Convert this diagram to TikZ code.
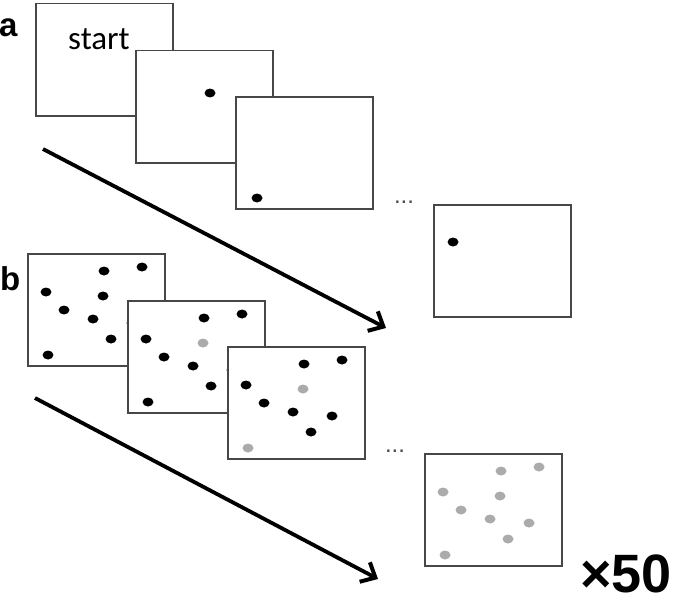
\documentclass[tikz,border=0pt]{standalone}
\usepackage{fontspec}
\setmainfont{Liberation Sans}
\newfontfamily\carl{Carlito}
\usetikzlibrary{arrows.meta}
\begin{document}
\begin{tikzpicture}[x=1pt,y=-1pt,
  frame/.style={draw=black!72, line width=1.5pt, fill=white, minimum width=137pt, minimum height=112pt, anchor=north west, inner sep=0pt},
  timearrow/.style={line width=3.8pt, -{Straight Barb[length=12pt,width=22pt,line width=4pt]}},
  panel/.style={font=\bfseries\fontsize{33}{33}\selectfont, anchor=base west, inner sep=0pt},
  ell/.style={font=\fontsize{24}{24}\selectfont, text=black!70, inner sep=0pt}]
\useasboundingbox (0,0) rectangle (685,602);
% panel a
\node[panel] (la) at (-1,37) {a};
\node[frame] (a1) at (35,3) {};
\node[font=\carl\fontsize{33}{33}\selectfont, anchor=base, inner sep=0pt] (start) at (99,50) {start};
\node[frame] (a2) at (135,50) {};
\fill (210,93) ellipse [x radius=5.5pt, y radius=4.5pt];
\node[frame] (a3) at (235,96) {};
\fill (257,198) ellipse [x radius=5.5pt, y radius=4.5pt];
\node[ell] (ea) at (404,202) {...};
\node[frame] (a4) at (433,204) {};
\fill (453,242) ellipse [x radius=5.5pt, y radius=4.5pt];
\coordinate (sa) at (43,149);
\coordinate (ta) at (386,328);
\draw[timearrow] (sa) -- (ta);
% panel b
\node[panel] (lb) at (0,290) {b};
\node[frame] (b1) at (27,253) {};
\foreach \dx/\dy/\c in {77/18/black,115/14/black,19/39/black,76/43/black,37/57/black,66/66/black,105/70/black,84/86/black,21/102/black}
  \fill[\c] (27+\dx,253+\dy) ellipse [x radius=5.5pt, y radius=4.5pt];
\node[frame] (b2) at (127,300) {};
\foreach \dx/\dy/\c in {77/18/black,115/14/black,19/39/black,76/43/black!33,37/57/black,66/66/black,105/70/black,84/86/black,21/102/black}
  \fill[\c] (127+\dx,300+\dy) ellipse [x radius=5.5pt, y radius=4.5pt];
\node[frame] (b3) at (227,346) {};
\foreach \dx/\dy/\c in {77/18/black,115/14/black,19/39/black,76/43/black!33,37/57/black,66/66/black,105/70/black,84/86/black,21/102/black!33}
  \fill[\c] (227+\dx,346+\dy) ellipse [x radius=5.5pt, y radius=4.5pt];
\node[ell] (eb) at (395,451) {...};
\node[frame] (b4) at (424,453) {};
\foreach \dx/\dy/\c in {77/18,115/14,19/39,76/43,37/57,66/66,105/70,84/86,21/102}
  \fill[black!33] (424+\dx,453+\dy) ellipse [x radius=5.5pt, y radius=4.5pt];
\coordinate (sb) at (35,398);
\coordinate (tb) at (378,579);
\draw[timearrow] (sb) -- (tb);
\node[font=\bfseries\fontsize{54}{54}\selectfont, anchor=base west, inner sep=0pt, text depth=0pt] (times) at (580,592) {×50};
\end{tikzpicture}
\end{document}
